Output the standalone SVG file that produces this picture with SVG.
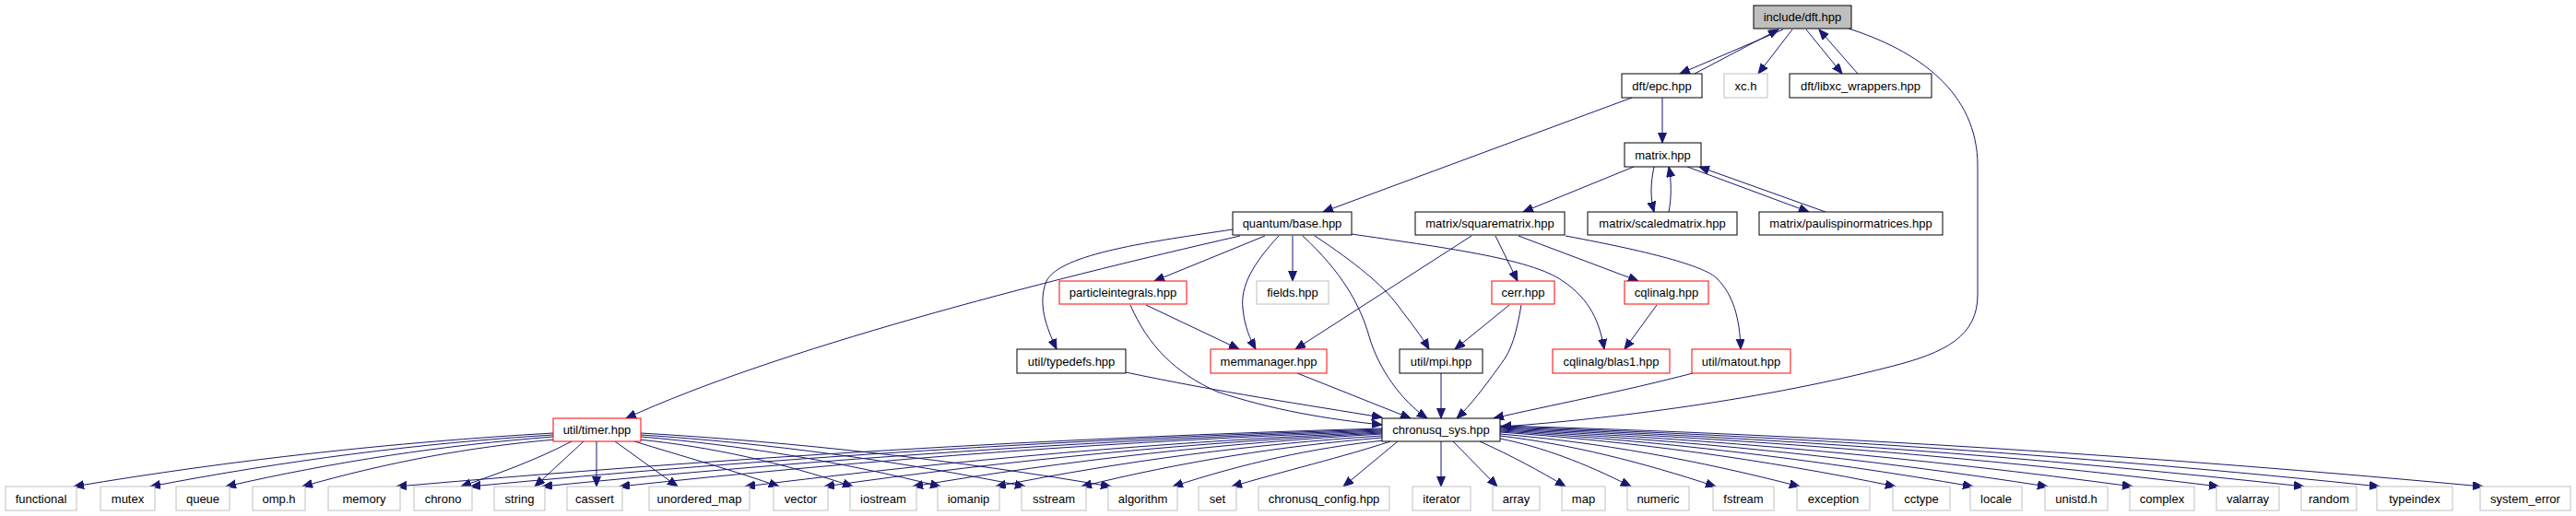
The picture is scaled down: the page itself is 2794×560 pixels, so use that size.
<svg xmlns="http://www.w3.org/2000/svg" width="2794" height="560" viewBox="0 0 2794 560">
<style>
.node rect{fill:#ffffff;stroke:#000000;stroke-width:1}
.node.root rect{fill:#bfbfbf}
.node.ext rect{stroke:#bfbfbf}
.node.red rect{stroke:#ff0000}
.node text{font-family:"Liberation Sans",Arial,Helvetica,sans-serif;font-size:13px;text-anchor:middle;fill:#000000}
.edges path{fill:none;stroke:#191970;stroke-width:1;marker-end:url(#arr)}
</style>
<defs>
<marker id="arr" markerUnits="userSpaceOnUse" markerWidth="12" markerHeight="10" refX="11" refY="4.5" orient="auto">
<path d="M0,0 L11,4.5 L0,9 Z" fill="#191970" stroke="#191970" stroke-width="1"/>
</marker>
</defs>
<rect x="0" y="0" width="2794" height="560" fill="#ffffff"/>
<g id="edges" class="edges">
<path d="M1934,32 L1822,80"/>
<path d="M1838,80 L1929,32"/>
<path d="M1944,32 L1907,80"/>
<path d="M1959,32 L1998,80"/>
<path d="M2015,80 L1973,32"/>
<path d="M2005,31 C2080,55 2145,100 2145,180 L2145,320 C2145,365 2110,383 2050,398 C1900,437 1720,457 1628,463"/>
<path d="M1770,106 L1435,230"/>
<path d="M1803,106 L1803,155"/>
<path d="M1772,181 L1652,230"/>
<path d="M1794,181 C1790,200 1790,215 1794,230"/>
<path d="M1810,230 C1813,215 1813,196 1810,181"/>
<path d="M1830,181 L1962,230"/>
<path d="M1980,230 L1843,181"/>
<path d="M1337,249 C1250,262 1150,275 1135,305 C1125,330 1135,355 1146,379"/>
<path d="M1372,256 L1252,305"/>
<path d="M1345,256 C1130,305 840,380 679,454"/>
<path d="M1387,256 C1360,285 1345,310 1348,335 C1350,355 1356,368 1362,379"/>
<path d="M1402,256 L1402,305"/>
<path d="M1413,256 C1455,295 1475,330 1485,365 C1495,400 1520,435 1548,454"/>
<path d="M1426,256 C1470,285 1500,310 1515,330 C1530,350 1542,365 1550,379"/>
<path d="M1466,254 C1560,268 1660,280 1695,305 C1725,325 1735,350 1740,379"/>
<path d="M1596,256 L1405,379"/>
<path d="M1622,256 L1646,305"/>
<path d="M1647,256 L1777,305"/>
<path d="M1698,256 C1800,275 1850,290 1862,302 C1880,320 1887,345 1888,379"/>
<path d="M1243,331 L1344,379"/>
<path d="M1226,331 C1245,375 1275,405 1320,425 C1380,445 1440,455 1499,461"/>
<path d="M1637,331 L1578,379"/>
<path d="M1650,331 C1645,360 1640,380 1628,395 C1610,420 1595,440 1580,454"/>
<path d="M1797,331 L1762,379"/>
<path d="M1221,404 C1320,425 1420,440 1499,453"/>
<path d="M1407,405 L1530,454"/>
<path d="M1563,405 L1563,454"/>
<path d="M1836,405 C1760,425 1680,440 1620,454"/>
<path d="M600,470 C427,480 253,499 80,528"/>
<path d="M600,472 C454,481 309,500 163,528"/>
<path d="M600,474 C482,483 363,501 245,528"/>
<path d="M602,477 C509,485 419,502 328,528"/>
<path d="M620,479 C580,500 540,514 500,528"/>
<path d="M633,479 L580,528"/>
<path d="M647,479 L647,528"/>
<path d="M667,479 L735,528"/>
<path d="M688,479 C740,495 800,512 845,528"/>
<path d="M693,477 C772,485 848,502 925,528"/>
<path d="M695,474 C803,483 912,501 1020,528"/>
<path d="M695,472 C834,481 973,500 1112,528"/>
<path d="M695,470 C865,480 1035,499 1205,528"/>
<path d="M1499,465 C1143,475 786,497 430,528"/>
<path d="M1499,466 C1168,476 836,497 510,528"/>
<path d="M1499,467 C1195,477 890,498 588,528"/>
<path d="M1499,468 C1223,478 948,498 672,528"/>
<path d="M1499,469 C1269,479 1038,499 808,528"/>
<path d="M1499,470 C1298,480 1096,499 894,528"/>
<path d="M1499,471 C1329,481 1160,499 990,528"/>
<path d="M1499,473 C1359,482 1220,500 1080,528"/>
<path d="M1499,475 C1390,484 1282,501 1173,528"/>
<path d="M1501,478 C1424,486 1348,503 1272,528"/>
<path d="M1508,479 C1460,495 1390,512 1336,528"/>
<path d="M1516,479 L1457,528"/>
<path d="M1563,479 L1563,528"/>
<path d="M1576,479 L1624,528"/>
<path d="M1605,479 C1640,495 1670,511 1698,528"/>
<path d="M1627,476 C1672,485 1718,502 1769,528"/>
<path d="M1627,473 C1703,482 1779,501 1861,528"/>
<path d="M1627,471 C1734,480 1840,499 1952,528"/>
<path d="M1627,469 C1769,479 1910,498 2056,528"/>
<path d="M1627,468 C1797,478 1966,498 2140,528"/>
<path d="M1627,467 C1824,477 2020,497 2221,528"/>
<path d="M1627,466 C1855,476 2082,497 2313,528"/>
<path d="M1627,465 C1886,475 2145,496 2407,528"/>
<path d="M1627,464 C1916,474 2205,496 2499,528"/>
<path d="M1627,463 C1946,473 2265,495 2581,528"/>
<path d="M1627,462 C1981,472 2336,495 2693,528"/>
</g>
<g id="node_dft" class="node root"><rect x="1902" y="6" width="106" height="25"/><text x="1955" y="23">include/dft.hpp</text></g>
<g id="node_epc" class="node"><rect x="1759" y="80" width="87" height="26"/><text x="1802.5" y="97.5">dft/epc.hpp</text></g>
<g id="node_xc" class="node ext"><rect x="1870" y="80" width="47" height="26"/><text x="1893.5" y="97.5">xc.h</text></g>
<g id="node_libxc" class="node"><rect x="1941" y="80" width="154" height="26"/><text x="2018" y="97.5">dft/libxc_wrappers.hpp</text></g>
<g id="node_matrix" class="node"><rect x="1762" y="155" width="83" height="26"/><text x="1803.5" y="172.5">matrix.hpp</text></g>
<g id="node_base" class="node"><rect x="1337" y="230" width="129" height="25"/><text x="1401.5" y="247">quantum/base.hpp</text></g>
<g id="node_squarematrix" class="node"><rect x="1535" y="230" width="162" height="25"/><text x="1616" y="247">matrix/squarematrix.hpp</text></g>
<g id="node_scaledmatrix" class="node"><rect x="1722" y="230" width="162" height="25"/><text x="1803" y="247">matrix/scaledmatrix.hpp</text></g>
<g id="node_paulispinor" class="node"><rect x="1908" y="230" width="199" height="25"/><text x="2007.5" y="247">matrix/paulispinormatrices.hpp</text></g>
<g id="node_particleintegrals" class="node red"><rect x="1149" y="305" width="138" height="25"/><text x="1218" y="322">particleintegrals.hpp</text></g>
<g id="node_fields" class="node ext"><rect x="1363" y="305" width="78" height="25"/><text x="1402" y="322">fields.hpp</text></g>
<g id="node_cerr" class="node red"><rect x="1618" y="305" width="68" height="25"/><text x="1652" y="322">cerr.hpp</text></g>
<g id="node_cqlinalg" class="node red"><rect x="1762" y="305" width="91" height="25"/><text x="1807.5" y="322">cqlinalg.hpp</text></g>
<g id="node_typedefs" class="node"><rect x="1103" y="379" width="118" height="26"/><text x="1162" y="396.5">util/typedefs.hpp</text></g>
<g id="node_memmanager" class="node red"><rect x="1313" y="379" width="126" height="26"/><text x="1376" y="396.5">memmanager.hpp</text></g>
<g id="node_mpi" class="node"><rect x="1518" y="379" width="90" height="26"/><text x="1563" y="396.5">util/mpi.hpp</text></g>
<g id="node_blas1" class="node red"><rect x="1684" y="379" width="127" height="26"/><text x="1747.5" y="396.5">cqlinalg/blas1.hpp</text></g>
<g id="node_matout" class="node red"><rect x="1835" y="379" width="107" height="26"/><text x="1888.5" y="396.5">util/matout.hpp</text></g>
<g id="node_timer" class="node red"><rect x="600" y="454" width="95" height="25"/><text x="647.5" y="471">util/timer.hpp</text></g>
<g id="node_chronusq_sys" class="node"><rect x="1499" y="454" width="128" height="25"/><text x="1563" y="471">chronusq_sys.hpp</text></g>
<g id="node_functional" class="node ext"><rect x="6" y="528" width="77" height="26"/><text x="44.5" y="545.5">functional</text></g>
<g id="node_mutex" class="node ext"><rect x="109" y="528" width="59" height="26"/><text x="138.5" y="545.5">mutex</text></g>
<g id="node_queue" class="node ext"><rect x="191" y="528" width="58" height="26"/><text x="220" y="545.5">queue</text></g>
<g id="node_omp" class="node ext"><rect x="274" y="528" width="57" height="26"/><text x="302.5" y="545.5">omp.h</text></g>
<g id="node_memory" class="node ext"><rect x="356" y="528" width="78" height="26"/><text x="395" y="545.5">memory</text></g>
<g id="node_chrono" class="node ext"><rect x="449" y="528" width="63" height="26"/><text x="480.5" y="545.5">chrono</text></g>
<g id="node_string" class="node ext"><rect x="536" y="528" width="55" height="26"/><text x="563.5" y="545.5">string</text></g>
<g id="node_cassert" class="node ext"><rect x="615" y="528" width="60" height="26"/><text x="645" y="545.5">cassert</text></g>
<g id="node_unordered_map" class="node ext"><rect x="704" y="528" width="109" height="26"/><text x="758.5" y="545.5">unordered_map</text></g>
<g id="node_vector" class="node ext"><rect x="839" y="528" width="59" height="26"/><text x="868.5" y="545.5">vector</text></g>
<g id="node_iostream" class="node ext"><rect x="922" y="528" width="72" height="26"/><text x="958" y="545.5">iostream</text></g>
<g id="node_iomanip" class="node ext"><rect x="1017" y="528" width="67" height="26"/><text x="1050.5" y="545.5">iomanip</text></g>
<g id="node_sstream" class="node ext"><rect x="1108" y="528" width="70" height="26"/><text x="1143" y="545.5">sstream</text></g>
<g id="node_algorithm" class="node ext"><rect x="1202" y="528" width="75" height="26"/><text x="1239.5" y="545.5">algorithm</text></g>
<g id="node_set" class="node ext"><rect x="1300" y="528" width="41" height="26"/><text x="1320.5" y="545.5">set</text></g>
<g id="node_chronusq_config" class="node ext"><rect x="1365" y="528" width="142" height="26"/><text x="1436" y="545.5">chronusq_config.hpp</text></g>
<g id="node_iterator" class="node ext"><rect x="1532" y="528" width="63" height="26"/><text x="1563.5" y="545.5">iterator</text></g>
<g id="node_array" class="node ext"><rect x="1619" y="528" width="51" height="26"/><text x="1644.5" y="545.5">array</text></g>
<g id="node_map" class="node ext"><rect x="1694" y="528" width="47" height="26"/><text x="1717.5" y="545.5">map</text></g>
<g id="node_numeric" class="node ext"><rect x="1765" y="528" width="67" height="26"/><text x="1798.5" y="545.5">numeric</text></g>
<g id="node_fstream" class="node ext"><rect x="1858" y="528" width="66" height="26"/><text x="1891" y="545.5">fstream</text></g>
<g id="node_exception" class="node ext"><rect x="1949" y="528" width="79" height="26"/><text x="1988.5" y="545.5">exception</text></g>
<g id="node_cctype" class="node ext"><rect x="2053" y="528" width="62" height="26"/><text x="2084" y="545.5">cctype</text></g>
<g id="node_locale" class="node ext"><rect x="2137" y="528" width="56" height="26"/><text x="2165" y="545.5">locale</text></g>
<g id="node_unistd" class="node ext"><rect x="2218" y="528" width="68" height="26"/><text x="2252" y="545.5">unistd.h</text></g>
<g id="node_complex" class="node ext"><rect x="2310" y="528" width="70" height="26"/><text x="2345" y="545.5">complex</text></g>
<g id="node_valarray" class="node ext"><rect x="2404" y="528" width="68" height="26"/><text x="2438" y="545.5">valarray</text></g>
<g id="node_random" class="node ext"><rect x="2496" y="528" width="60" height="26"/><text x="2526" y="545.5">random</text></g>
<g id="node_typeindex" class="node ext"><rect x="2578" y="528" width="82" height="26"/><text x="2619" y="545.5">typeindex</text></g>
<g id="node_system_error" class="node ext"><rect x="2690" y="528" width="98" height="26"/><text x="2739" y="545.5">system_error</text></g>
</svg>
